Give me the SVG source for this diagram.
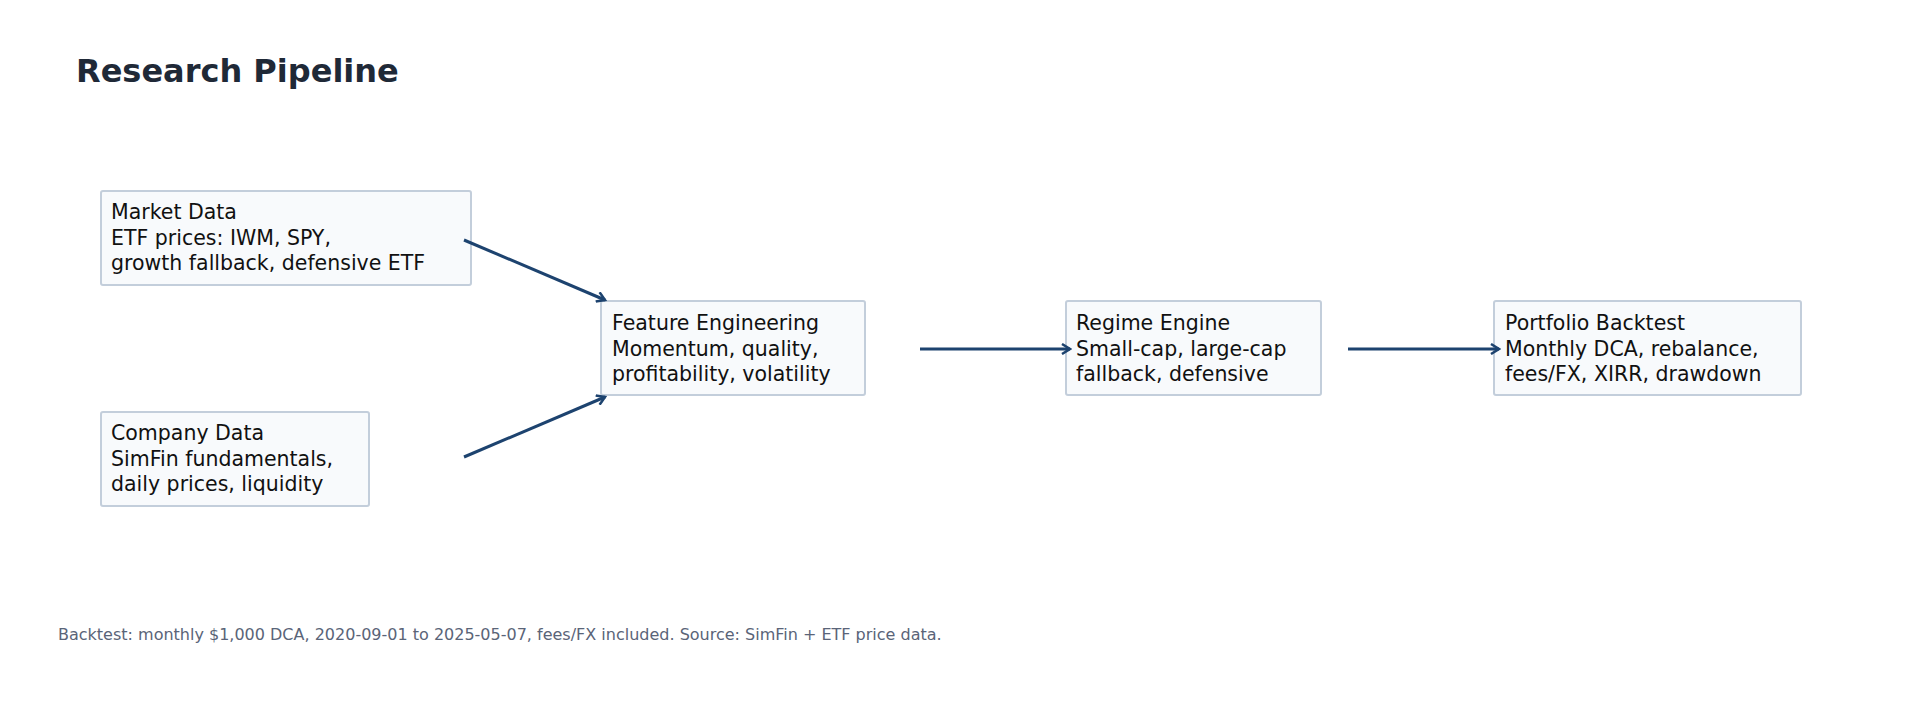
<svg xmlns="http://www.w3.org/2000/svg" width="1920" height="702" viewBox="0 0 1920 702">
<style>
.box{fill:#f8fafc;stroke:#c3cedb;stroke-width:2}
.t{font-family:"DejaVu Sans",sans-serif;font-size:20.5px;fill:#111}
.c{stroke:#1d436f;stroke-width:3;fill:none;marker-end:url(#a)}
</style>
<defs><marker id="a" viewBox="0 0 12 12" refX="10" refY="6" markerWidth="12" markerHeight="12" markerUnits="userSpaceOnUse" orient="auto"><path d="M2,1 L10,6 L2,11" fill="none" stroke="#1d436f" stroke-width="2.5"/></marker></defs>
<rect width="1920" height="702" fill="#fff"/>
<text x="76" y="82" font-family="DejaVu Sans,sans-serif" font-weight="bold" font-size="32" fill="#1f2937">Research Pipeline</text>
<g id="market"><rect class="box" x="101" y="191" width="370" height="94" rx="2"/><text class="t" x="111" y="219">Market Data<tspan x="111" dy="25.5">ETF prices: IWM, SPY,</tspan><tspan x="111" dy="25.5">growth fallback, defensive ETF</tspan></text></g>
<g id="company"><rect class="box" x="101" y="412" width="268" height="94" rx="2"/><text class="t" x="111" y="440">Company Data<tspan x="111" dy="25.5">SimFin fundamentals,</tspan><tspan x="111" dy="25.5">daily prices, liquidity</tspan></text></g>
<g id="feature"><rect class="box" x="601" y="301" width="264" height="94" rx="2"/><text class="t" x="612" y="330">Feature Engineering<tspan x="612" dy="25.5">Momentum, quality,</tspan><tspan x="612" dy="25.5">profitability, volatility</tspan></text></g>
<g id="regime"><rect class="box" x="1066" y="301" width="255" height="94" rx="2"/><text class="t" x="1076" y="330">Regime Engine<tspan x="1076" dy="25.5">Small-cap, large-cap</tspan><tspan x="1076" dy="25.5">fallback, defensive</tspan></text></g>
<g id="portfolio"><rect class="box" x="1494" y="301" width="307" height="94" rx="2"/><text class="t" x="1505" y="330">Portfolio Backtest<tspan x="1505" dy="25.5">Monthly DCA, rebalance,</tspan><tspan x="1505" dy="25.5">fees/FX, XIRR, drawdown</tspan></text></g>
<g id="connectors">
<line class="c" x1="464" y1="240" x2="605" y2="300"/>
<line class="c" x1="464" y1="457" x2="605" y2="397"/>
<line class="c" x1="920" y1="349" x2="1070" y2="349"/>
<line class="c" x1="1348" y1="349" x2="1499" y2="349"/>
</g>
<text x="58" y="640" font-family="DejaVu Sans,sans-serif" font-size="16" fill="#5a6478">Backtest: monthly $1,000 DCA, 2020-09-01 to 2025-05-07, fees/FX included. Source: SimFin + ETF price data.</text>
</svg>
